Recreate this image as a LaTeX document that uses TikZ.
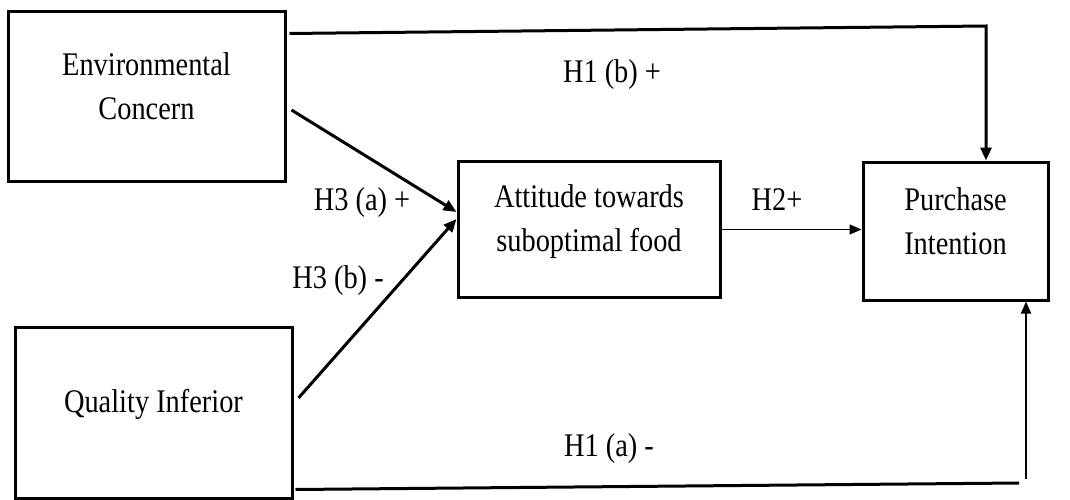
\documentclass[tikz,border=0pt]{standalone}
\usepackage{fontspec}
\setmainfont{Liberation Serif}[FakeStretch=0.86]
\usetikzlibrary{arrows.meta,positioning,calc}
\tikzset{
  box/.style={draw, line width=3pt, inner sep=0pt},
  txt/.style={align=center, inner sep=0pt},
  flow/.style={draw, line width=3pt, -{Triangle[length=13pt,width=11pt]}},
  thinflow/.style={draw, line width=1.6pt, -{Triangle[length=12pt,width=10pt]}},
  lbl/.style={anchor=base, inner sep=0pt}
}

\begin{document}
\begin{tikzpicture}[x=1pt, y=-1pt, font=\fontsize{33}{44}\selectfont]
    \useasboundingbox (0,0) rectangle (1070,500);
    % constructs
    \node[box, minimum width=277pt, minimum height=169pt] (ec) at (146.5,96.5) {};
    \node[box, minimum width=277pt, minimum height=171pt] (qi) at (153.5,412.5) {};
    \node[box, minimum width=262pt, minimum height=136pt] (att) at (589,229) {};
    \node[box, minimum width=185pt, minimum height=138pt] (pi) at (955.5,231) {};
    \node[txt] (ectext) at ([yshift=10.5pt]ec.center) {Environmental\\Concern};
    \node[txt] (qitext) at ([yshift=8.5pt]qi.center) {Quality Inferior};
    \node[txt] (atttext) at ([yshift=7pt]att.center) {Attitude towards\\suboptimal food};
    \node[txt] (pitext) at ([yshift=10pt]pi.center) {Purchase\\Intention};
    % corners of the direct paths
    \coordinate (tr) at (986,26);
    \coordinate (br) at (1019,483);
    \coordinate (bv) at (1026,479);
    % hypotheses
    \draw[flow] ([shift={(3,23)}]ec.north east) -- (tr) -- (tr |- pi.north);
    \draw[flow] ([shift={(5,13.5)}]ec.east) -- ([shift={(0,-17)}]att.west);
    \draw[flow] ([shift={(5,-14.5)}]qi.east) -- ([shift={(0,-10)}]att.west);
    \draw[thinflow] ([yshift=-0.5pt]att.east) -- ([yshift=-0.5pt]att.east -| pi.west);
    \draw[line width=3pt] ([shift={(2,-10)}]qi.south east) -- (br);
    \draw[thinflow] (bv) -- (bv |- pi.south);
    \node[lbl] (h1b) at (612,83) {H1 (b) +};
    \node[lbl] (h3a) at (362,210) {H3 (a) +};
    \node[lbl] (h3b) at (338,288) {H3 (b) -};
    \node[lbl] (h2) at (777,210) {H2+};
    \node[lbl] (h1a) at (609,456) {H1 (a) -};
\end{tikzpicture}
\end{document}
